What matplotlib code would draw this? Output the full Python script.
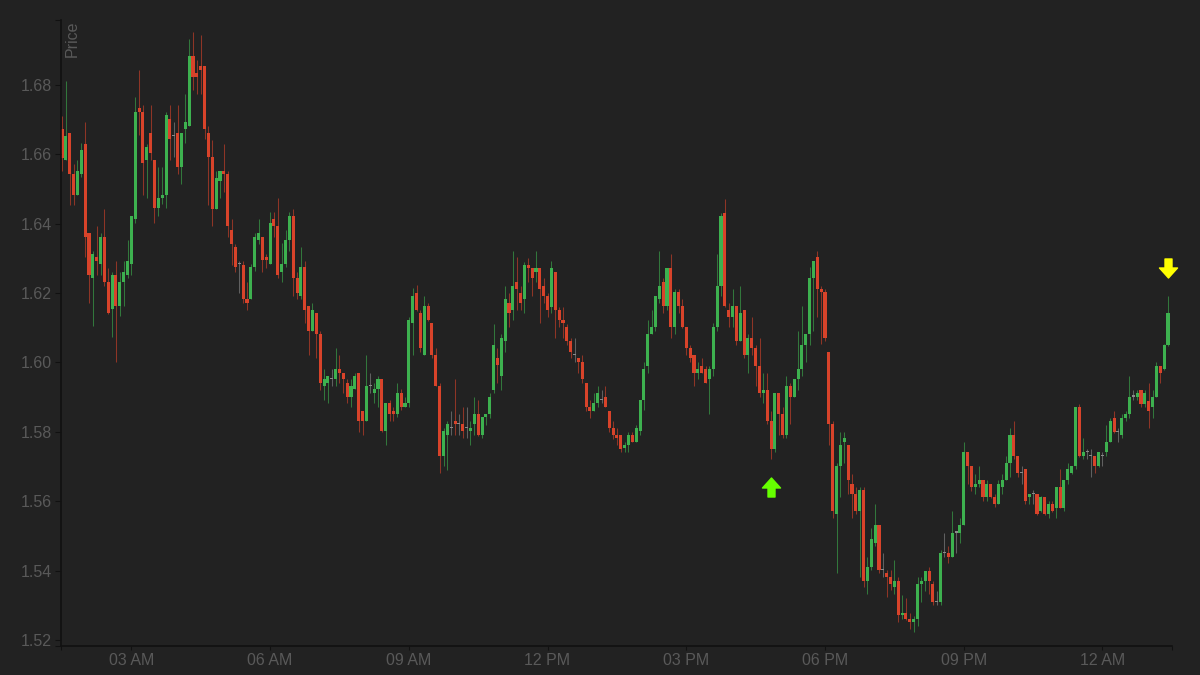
import numpy as np
import pandas as pd
import matplotlib
matplotlib.use('Agg')
import matplotlib.pyplot as plt
import matplotlib.dates as mdates
import matplotlib.transforms as mtransforms
from matplotlib.path import Path
from matplotlib.ticker import FormatStrFormatter

# 5-minute candles, first one at 01:30
start_time = '2024-03-01 01:30'

opens = [
    1.6672, 1.6584, 1.6662, 1.6543, 1.6483, 1.6543, 1.6631, 1.6372, 1.6243, 1.6303,
    1.6284, 1.6362, 1.6233, 1.6153, 1.6253, 1.6163, 1.6233, 1.6253, 1.6284, 1.6413,
    1.6733, 1.6723, 1.6584, 1.6662, 1.6584, 1.6445, 1.6473, 1.6483, 1.6703, 1.6653,
    1.6662, 1.6563, 1.6672, 1.6682, 1.6884, 1.6833, 1.6853, 1.6853, 1.6662, 1.6593,
    1.6443, 1.6523, 1.6552, 1.6543, 1.6382, 1.6332, 1.6284, 1.6282, 1.6182, 1.6182,
    1.6274, 1.6353, 1.6362, 1.6303, 1.6284, 1.6413, 1.6394, 1.6262, 1.6284, 1.6353,
    1.6423, 1.6243, 1.6192, 1.6274, 1.6163, 1.6092, 1.6142, 1.6083, 1.5933, 1.5942,
    1.5952, 1.5952, 1.5980, 1.5970, 1.5942, 1.5902, 1.5923, 1.5970, 1.5861, 1.5832,
    1.5933, 1.5913, 1.5923, 1.5952, 1.5802, 1.5883, 1.5861, 1.5853, 1.5911, 1.5873,
    1.5883, 1.6113, 1.6201, 1.6142, 1.6022, 1.6163, 1.6113, 1.6022, 1.5933, 1.5731,
    1.5791, 1.5812, 1.5832, 1.5822, 1.5822, 1.5812, 1.5802, 1.5822, 1.5853, 1.5791,
    1.5842, 1.5851, 1.5921, 1.6012, 1.5962, 1.6062, 1.6172, 1.6151, 1.6231, 1.6201,
    1.6182, 1.6282, 1.6272, 1.6262, 1.6272, 1.6221, 1.6192, 1.6161, 1.6262, 1.6151,
    1.6123, 1.6102, 1.6062, 1.6022, 1.6012, 1.6002, 1.5942, 1.5873, 1.5861, 1.5883,
    1.5892, 1.5902, 1.5861, 1.5810, 1.5791, 1.5791, 1.5753, 1.5763, 1.5791, 1.5772,
    1.5802, 1.5892, 1.5991, 1.6083, 1.6102, 1.6182, 1.6231, 1.6163, 1.6272, 1.6102,
    1.6202, 1.6163, 1.6102, 1.6041, 1.6022, 1.5971, 1.5991, 1.5981, 1.5952, 1.5981,
    1.6102, 1.6221, 1.6432, 1.6151, 1.6132, 1.6163, 1.6062, 1.6151, 1.6022, 1.6072,
    1.6041, 1.5991, 1.5911, 1.5921, 1.5831, 1.5751, 1.5911, 1.5851, 1.5791, 1.5933,
    1.5902, 1.5952, 1.5981, 1.6050, 1.6082, 1.6243, 1.6303, 1.6212, 1.6202, 1.6031,
    1.5822, 1.5562, 1.5702, 1.5770, 1.5761, 1.5651, 1.5622, 1.5572, 1.5632, 1.5371,
    1.5411, 1.5481, 1.5531, 1.5402, 1.5392, 1.5381, 1.5352, 1.5371, 1.5272, 1.5279,
    1.5261, 1.5251, 1.5261, 1.5361, 1.5370, 1.5400, 1.5361, 1.5310, 1.5310, 1.5450,
    1.5450, 1.5440, 1.5510, 1.5510, 1.5531, 1.5741, 1.5702, 1.5642, 1.5651, 1.5661,
    1.5612, 1.5651, 1.5613, 1.5592, 1.5642, 1.5661, 1.5711, 1.5791, 1.5731, 1.5682,
    1.5692, 1.5612, 1.5621, 1.5621, 1.5572, 1.5612, 1.5562, 1.5592, 1.5582, 1.5642,
    1.5582, 1.5661, 1.5682, 1.5702, 1.5871, 1.5731, 1.5741, 1.5731, 1.5731, 1.5702,
    1.5731, 1.5741, 1.5772, 1.5841, 1.5800, 1.5791, 1.5841, 1.5851, 1.5902, 1.5902,
    1.5921, 1.5880, 1.5890, 1.5871, 1.5902, 1.5991, 1.5981, 1.6050,
]

highs = [
    1.6709, 1.6812, 1.6662, 1.6572, 1.6584, 1.6633, 1.6694, 1.6372, 1.6322, 1.6394,
    1.6372, 1.6442, 1.6272, 1.6262, 1.6293, 1.6262, 1.6293, 1.6353, 1.6423, 1.6764,
    1.6843, 1.6743, 1.6631, 1.6743, 1.6584, 1.6564, 1.6564, 1.6723, 1.6743, 1.6694,
    1.6743, 1.6662, 1.6774, 1.6933, 1.6953, 1.6872, 1.6944, 1.6853, 1.6682, 1.6641,
    1.6552, 1.6552, 1.6631, 1.6552, 1.6413, 1.6341, 1.6293, 1.6293, 1.6233, 1.6284,
    1.6372, 1.6413, 1.6362, 1.6312, 1.6433, 1.6433, 1.6473, 1.6343, 1.6382, 1.6435,
    1.6443, 1.6262, 1.6332, 1.6293, 1.6163, 1.6172, 1.6142, 1.6092, 1.5980, 1.5962,
    1.5980, 1.6041, 1.6022, 1.5970, 1.5952, 1.5952, 1.5970, 1.5970, 1.5861, 1.6022,
    1.5970, 1.5942, 1.5962, 1.5952, 1.5883, 1.5892, 1.5873, 1.5942, 1.5923, 1.5902,
    1.6132, 1.6214, 1.6223, 1.6151, 1.6192, 1.6172, 1.6113, 1.6041, 1.5942, 1.5810,
    1.5832, 1.5861, 1.5952, 1.5851, 1.5873, 1.5873, 1.5832, 1.5902, 1.5892, 1.5842,
    1.5853, 1.5911, 1.6111, 1.6043, 1.6082, 1.6221, 1.6201, 1.6321, 1.6304, 1.6221,
    1.6291, 1.6301, 1.6272, 1.6321, 1.6272, 1.6243, 1.6201, 1.6293, 1.6262, 1.6161,
    1.6161, 1.6111, 1.6072, 1.6072, 1.6012, 1.6022, 1.5942, 1.5892, 1.5911, 1.5933,
    1.5921, 1.5933, 1.5861, 1.5831, 1.5810, 1.5791, 1.5772, 1.5800, 1.5800, 1.5820,
    1.5892, 1.6000, 1.6123, 1.6151, 1.6192, 1.6321, 1.6243, 1.6272, 1.6312, 1.6212,
    1.6212, 1.6182, 1.6102, 1.6050, 1.6022, 1.6000, 1.6012, 1.5991, 1.5991, 1.6113,
    1.6312, 1.6432, 1.6471, 1.6172, 1.6212, 1.6163, 1.6221, 1.6151, 1.6083, 1.6132,
    1.6050, 1.6072, 1.5971, 1.5970, 1.5861, 1.5911, 1.5911, 1.5873, 1.5962, 1.5942,
    1.5952, 1.6092, 1.6163, 1.6082, 1.6274, 1.6293, 1.6321, 1.6221, 1.6212, 1.6031,
    1.5831, 1.5711, 1.5800, 1.5800, 1.5761, 1.5680, 1.5642, 1.5642, 1.5642, 1.5440,
    1.5522, 1.5592, 1.5531, 1.5450, 1.5402, 1.5402, 1.5431, 1.5382, 1.5329, 1.5320,
    1.5279, 1.5270, 1.5382, 1.5381, 1.5400, 1.5411, 1.5370, 1.5341, 1.5461, 1.5510,
    1.5471, 1.5572, 1.5512, 1.5551, 1.5772, 1.5741, 1.5702, 1.5680, 1.5702, 1.5661,
    1.5661, 1.5651, 1.5622, 1.5661, 1.5680, 1.5730, 1.5810, 1.5831, 1.5731, 1.5702,
    1.5692, 1.5621, 1.5632, 1.5621, 1.5614, 1.5612, 1.5602, 1.5602, 1.5642, 1.5692,
    1.5661, 1.5711, 1.5702, 1.5873, 1.5880, 1.5782, 1.5751, 1.5751, 1.5731, 1.5743,
    1.5741, 1.5820, 1.5841, 1.5861, 1.5810, 1.5851, 1.5861, 1.5962, 1.5921, 1.5921,
    1.5921, 1.5921, 1.5940, 1.5921, 1.6000, 1.5991, 1.6052, 1.6192,
]

lows = [
    1.6553, 1.6584, 1.6454, 1.6454, 1.6483, 1.6535, 1.6304, 1.6172, 1.6104, 1.6253,
    1.6253, 1.6221, 1.6140, 1.6073, 1.6002, 1.6134, 1.6163, 1.6243, 1.6253, 1.6403,
    1.6656, 1.6483, 1.6473, 1.6584, 1.6403, 1.6423, 1.6458, 1.6445, 1.6584, 1.6593,
    1.6543, 1.6514, 1.6633, 1.6682, 1.6784, 1.6774, 1.6774, 1.6643, 1.6454, 1.6392,
    1.6443, 1.6473, 1.6492, 1.6362, 1.6282, 1.6262, 1.6201, 1.6172, 1.6151, 1.6182,
    1.6264, 1.6341, 1.6262, 1.6272, 1.6284, 1.6362, 1.6243, 1.6233, 1.6274, 1.6322,
    1.6192, 1.6182, 1.6182, 1.6113, 1.6022, 1.6092, 1.6012, 1.5921, 1.5892, 1.5883,
    1.5931, 1.5931, 1.5942, 1.5911, 1.5883, 1.5873, 1.5923, 1.5800, 1.5791, 1.5832,
    1.5911, 1.5883, 1.5873, 1.5800, 1.5763, 1.5832, 1.5832, 1.5842, 1.5863, 1.5873,
    1.5873, 1.6022, 1.6149, 1.6031, 1.6022, 1.6121, 1.6012, 1.5931, 1.5682, 1.5702,
    1.5690, 1.5791, 1.5791, 1.5791, 1.5782, 1.5782, 1.5763, 1.5791, 1.5789, 1.5782,
    1.5820, 1.5841, 1.5911, 1.5942, 1.5921, 1.6031, 1.6102, 1.6123, 1.6151, 1.6151,
    1.6142, 1.6231, 1.6192, 1.6231, 1.6113, 1.6171, 1.6132, 1.6142, 1.6072, 1.6102,
    1.6072, 1.6050, 1.6012, 1.6002, 1.5970, 1.5942, 1.5861, 1.5841, 1.5861, 1.5873,
    1.5883, 1.5871, 1.5800, 1.5780, 1.5761, 1.5741, 1.5743, 1.5743, 1.5770, 1.5770,
    1.5791, 1.5863, 1.5971, 1.6083, 1.6092, 1.6172, 1.6142, 1.6151, 1.6072, 1.6083,
    1.6142, 1.6100, 1.6022, 1.6002, 1.5933, 1.5952, 1.5969, 1.5940, 1.5853, 1.5962,
    1.6092, 1.6192, 1.6161, 1.6102, 1.6102, 1.6050, 1.6062, 1.6012, 1.5971, 1.6022,
    1.5933, 1.5902, 1.5883, 1.5822, 1.5721, 1.5741, 1.5791, 1.5782, 1.5782, 1.5822,
    1.5902, 1.5921, 1.5962, 1.6002, 1.6050, 1.6092, 1.6132, 1.6052, 1.6062, 1.5763,
    1.5551, 1.5392, 1.5612, 1.5711, 1.5622, 1.5551, 1.5562, 1.5382, 1.5354, 1.5332,
    1.5402, 1.5472, 1.5392, 1.5382, 1.5323, 1.5344, 1.5332, 1.5251, 1.5261, 1.5259,
    1.5232, 1.5222, 1.5242, 1.5310, 1.5342, 1.5332, 1.5301, 1.5301, 1.5301, 1.5440,
    1.5421, 1.5440, 1.5450, 1.5480, 1.5531, 1.5651, 1.5630, 1.5622, 1.5642, 1.5601,
    1.5601, 1.5610, 1.5583, 1.5592, 1.5622, 1.5661, 1.5671, 1.5721, 1.5671, 1.5651,
    1.5592, 1.5592, 1.5592, 1.5560, 1.5570, 1.5560, 1.5553, 1.5570, 1.5553, 1.5580,
    1.5572, 1.5651, 1.5680, 1.5692, 1.5729, 1.5721, 1.5721, 1.5671, 1.5682, 1.5700,
    1.5702, 1.5731, 1.5770, 1.5798, 1.5772, 1.5782, 1.5831, 1.5841, 1.5892, 1.5892,
    1.5871, 1.5871, 1.5812, 1.5841, 1.5900, 1.5940, 1.5979, 1.6048,
]

closes = [
    1.6589, 1.6653, 1.6543, 1.6483, 1.6553, 1.6613, 1.6362, 1.6253, 1.6312, 1.6293,
    1.6362, 1.6233, 1.6143, 1.6253, 1.6163, 1.6233, 1.6262, 1.6293, 1.6423, 1.6723,
    1.6723, 1.6574, 1.6622, 1.6603, 1.6445, 1.6473, 1.6483, 1.6714, 1.6643, 1.6653,
    1.6563, 1.6662, 1.6692, 1.6884, 1.6824, 1.6824, 1.6843, 1.6673, 1.6593, 1.6443,
    1.6533, 1.6552, 1.6543, 1.6392, 1.6341, 1.6274, 1.6284, 1.6182, 1.6172, 1.6274,
    1.6362, 1.6372, 1.6294, 1.6294, 1.6403, 1.6394, 1.6253, 1.6284, 1.6353, 1.6423,
    1.6243, 1.6201, 1.6274, 1.6151, 1.6092, 1.6151, 1.6083, 1.5942, 1.5952, 1.5962,
    1.5952, 1.5980, 1.5970, 1.5952, 1.5902, 1.5933, 1.5962, 1.5832, 1.5832, 1.5933,
    1.5933, 1.5923, 1.5952, 1.5802, 1.5883, 1.5853, 1.5853, 1.5911, 1.5873, 1.5883,
    1.6123, 1.6192, 1.6151, 1.6043, 1.6163, 1.6123, 1.6022, 1.5933, 1.5731, 1.5802,
    1.5822, 1.5812, 1.5822, 1.5822, 1.5802, 1.5812, 1.5812, 1.5853, 1.5791, 1.5842,
    1.5851, 1.5902, 1.6050, 1.5993, 1.6072, 1.6182, 1.6142, 1.6221, 1.6212, 1.6171,
    1.6282, 1.6272, 1.6243, 1.6272, 1.6212, 1.6192, 1.6151, 1.6272, 1.6151, 1.6123,
    1.6113, 1.6062, 1.6031, 1.6022, 1.6002, 1.5952, 1.5873, 1.5861, 1.5883, 1.5911,
    1.5892, 1.5873, 1.5810, 1.5791, 1.5782, 1.5751, 1.5763, 1.5791, 1.5772, 1.5810,
    1.5892, 1.5981, 1.6083, 1.6102, 1.6192, 1.6221, 1.6163, 1.6272, 1.6102, 1.6202,
    1.6163, 1.6102, 1.6041, 1.6012, 1.5971, 1.5981, 1.5971, 1.5942, 1.5981, 1.6102,
    1.6221, 1.6423, 1.6163, 1.6132, 1.6163, 1.6062, 1.6142, 1.6022, 1.6072, 1.6041,
    1.5991, 1.5911, 1.5921, 1.5831, 1.5751, 1.5911, 1.5851, 1.5791, 1.5933, 1.5902,
    1.5952, 1.5981, 1.6050, 1.6082, 1.6243, 1.6293, 1.6212, 1.6202, 1.6072, 1.5822,
    1.5572, 1.5702, 1.5761, 1.5782, 1.5661, 1.5622, 1.5572, 1.5632, 1.5371, 1.5411,
    1.5491, 1.5531, 1.5402, 1.5402, 1.5381, 1.5361, 1.5371, 1.5272, 1.5279, 1.5261,
    1.5251, 1.5261, 1.5361, 1.5370, 1.5400, 1.5370, 1.5310, 1.5310, 1.5450, 1.5450,
    1.5440, 1.5510, 1.5510, 1.5531, 1.5741, 1.5702, 1.5642, 1.5651, 1.5661, 1.5612,
    1.5651, 1.5612, 1.5592, 1.5651, 1.5661, 1.5711, 1.5791, 1.5731, 1.5682, 1.5682,
    1.5602, 1.5621, 1.5621, 1.5562, 1.5612, 1.5562, 1.5592, 1.5572, 1.5642, 1.5582,
    1.5661, 1.5692, 1.5702, 1.5871, 1.5731, 1.5741, 1.5741, 1.5731, 1.5702, 1.5741,
    1.5731, 1.5772, 1.5831, 1.5800, 1.5800, 1.5841, 1.5851, 1.5902, 1.5902, 1.5911,
    1.5880, 1.5911, 1.5861, 1.5902, 1.5991, 1.5970, 1.6050, 1.6142,
]

# candles flagged with arrows (local low / last high)
buy_signal = 184
sell_signal = 287

y_ticks = [1.52, 1.54, 1.56, 1.58, 1.60, 1.62, 1.64, 1.66, 1.68]

bg = '#222222'
green = '#3db14f'
red = '#d8432a'
gray = '#8a8a8a'
axis_color = '#111111'
text_color = '#595959'

plt.rcParams['font.family'] = ['Liberation Sans', 'DejaVu Sans']

times = pd.date_range(start_time, periods=len(closes), freq='5min')
x = mdates.date2num(times)
o = np.array(opens)
h = np.array(highs)
l = np.array(lows)
c = np.array(closes)

fig = plt.figure(figsize=(12, 6.75), dpi=100, facecolor=bg)
ax = fig.add_axes([61 / 1200, 29 / 675, 1111 / 1200, 626 / 675])
ax.set_facecolor(bg)

colors = np.where(c > o, green, np.where(c < o, red, gray))
step = 5 / 1440  # one candle in days

# wicks then bodies
ax.vlines(x, l, h, colors=colors, alpha=0.6, linewidth=0.75)
body = np.maximum(np.abs(c - o), 0.0003)
ax.bar(x, body, width=step * 0.8, bottom=np.minimum(o, c), color=colors, linewidth=0)

# arrow markers
up_path = Path([(0, 9.5), (9, -0.5), (3.5, -0.5), (3.5, -9.5), (-3.5, -9.5),
                (-3.5, -0.5), (-9, -0.5), (0, 9.5)], closed=True)
down_path = Path([(vx, -vy) for vx, vy in up_path.vertices], closed=True)
below = mtransforms.offset_copy(ax.transData, fig=fig, x=0, y=-27.4, units='dots')
above = mtransforms.offset_copy(ax.transData, fig=fig, x=0, y=27.5, units='dots')
ax.plot([x[buy_signal]], [lows[buy_signal]], marker=up_path, ms=13.7, color='#66ff00',
        linestyle='none', transform=below, clip_on=False)
ax.plot([x[sell_signal]], [highs[sell_signal]], marker=down_path, ms=13.7, color='#ffff00',
        linestyle='none', transform=above, clip_on=False)

x0 = x[0] - 1.3 / 1440
x1 = x[-1] + 5.2 / 1440
y0, y1 = 1.5183, 1.6987
ax.set_xlim(x0, x1)
ax.set_ylim(y0, y1)

ax.set_yticks(y_ticks)
ax.yaxis.set_major_formatter(FormatStrFormatter('%.2f'))
ax.xaxis.set_major_locator(mdates.HourLocator(byhour=range(0, 24, 3)))
ax.xaxis.set_major_formatter(mdates.DateFormatter('%I %p'))
# outer ticks at the ends of the axis lines
ax.set_xticks([x0, x1], minor=True)
ax.set_yticks([y0, y1], minor=True)

ax.tick_params(axis='y', which='both', length=4.3, width=0.8, color=axis_color,
               labelcolor=text_color, labelsize=11.5, pad=2.5)
ax.tick_params(axis='x', which='both', length=3, width=0.8, color=axis_color,
               labelcolor=text_color, labelsize=11.5, pad=2)

for side in ['top', 'right']:
    ax.spines[side].set_visible(False)
for side in ['left', 'bottom']:
    ax.spines[side].set_color(axis_color)
    ax.spines[side].set_linewidth(1.2)

ax.text(11.5 / 1111, 1 - 0.2 / 626, 'Price', transform=ax.transAxes, rotation=90,
        ha='center', va='top', color=text_color, fontsize=11.5)

fig.savefig('out.png', dpi=100, facecolor=bg)
